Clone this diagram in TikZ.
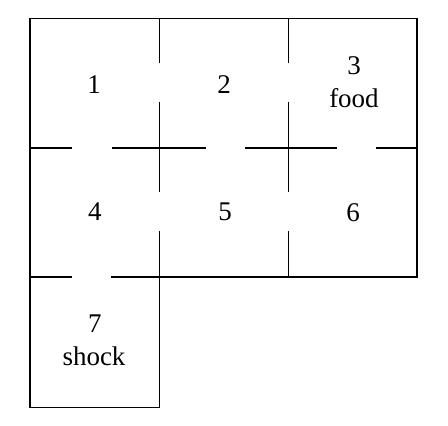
\documentclass[tikz,border=0pt]{standalone}
\usepackage{fontspec}
\setmainfont{Liberation Serif}
\begin{document}
\begin{tikzpicture}[x=1pt,y=-1pt,
  wall/.style={line width=1.6pt,line cap=rect},
  lbl/.style={font=\fontsize{27}{32}\selectfont,inner sep=0pt,anchor=center}]
\useasboundingbox (0,0) rectangle (448,426);
% outer walls
\draw[wall,line join=miter] (30,18.5) -- (417,18.5) -- (417,276.7) -- (159.5,276.7) -- (159.5,407.5) -- (30,407.5) -- cycle;
% interior vertical walls
\foreach \x in {159.5,288.5}{
  \draw[wall] (\x,18.5) -- (\x,61.7);
  \draw[wall] (\x,103) -- (\x,190.7);
  \draw[wall] (\x,232) -- (\x,276.7);
}
% interior horizontal walls
\draw[wall] (30,147.7) -- (70.7,147.7);
\draw[wall] (113,147.7) -- (205,147.7);
\draw[wall] (246,147.7) -- (335.7,147.7);
\draw[wall] (377,147.7) -- (417,147.7);
\draw[wall] (30,276.7) -- (70.7,276.7);
\draw[wall] (112,276.7) -- (159.5,276.7);
% labels
\node[lbl] (r1) at (94,85) {1};
\node[lbl] (r2) at (224,85) {2};
\node[lbl] (r3) at (354,66) {3};
\node[lbl] (food) at (354,98) {food};
\node[lbl] (r4) at (95,212) {4};
\node[lbl] (r5) at (225,212) {5};
\node[lbl] (r6) at (353,213) {6};
\node[lbl] (r7) at (95,324) {7};
\node[lbl] (shock) at (94,356) {shock};
\end{tikzpicture}
\end{document}
